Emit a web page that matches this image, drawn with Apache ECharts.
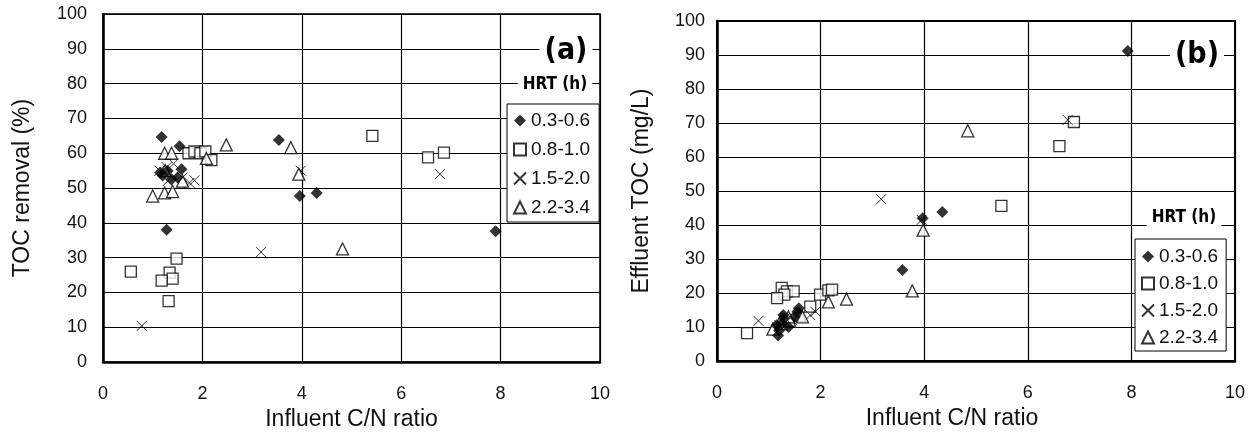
<!DOCTYPE html>
<html>
<head>
<meta charset="utf-8">
<script src="https://cdn.jsdelivr.net/npm/echarts@6/dist/echarts.min.js"></script>
<style>
html,body{margin:0;padding:0;background:#fff;}
#c{width:1255px;height:436px;}
</style>
</head>
<body>
<div id="c"></div>
<script>
// ---- data ----
const hrtGroups = ['0.3-0.6', '0.8-1.0', '1.5-2.0', '2.2-3.4'];
const xTicks = [0, 2, 4, 6, 8, 10];
const yTicks = [0, 10, 20, 30, 40, 50, 60, 70, 80, 90, 100];

// (a) TOC removal (%) vs influent C/N
const aHrt03 = [[1.18,64.7],[1.54,62],[1.2,53.6],[1.58,55.4],[1.3,55],[1.38,52.5],[1.15,54.5],[1.5,53],[1.28,38],[3.54,63.8],[3.96,47.7],[4.3,48.6],[7.9,37.6]];
const aHrt08 = [[0.56,26],[1.48,29.7],[1.34,25.7],[1.4,24],[1.18,23.4],[1.32,17.5],[1.72,60],[1.84,60.5],[1.96,60],[2.06,60.5],[2.18,58],[5.42,65],[6.54,58.8],[6.86,60.2]];
const aHrt15 = [[0.78,10.4],[1.14,55],[1.28,56],[1.42,57],[1.6,53],[1.74,51.5],[1.84,52.2],[1.3,52],[3.18,31.6],[3.98,55],[6.78,54]];
const aHrt22 = [[1.0,47.7],[1.24,48.6],[1.4,49],[1.24,60],[1.38,60],[1.25,55],[1.6,52],[2.08,58.5],[2.48,62.4],[3.78,61.6],[3.94,54],[4.82,32.5]];

// (b) Effluent TOC (mg/L) vs influent C/N
const bHrt03 = [[1.18,7.5],[1.2,9],[1.25,11],[1.3,12.5],[1.38,10],[1.5,13],[1.55,14.5],[1.58,15.5],[1.15,10.5],[1.28,13.5],[3.58,26.8],[3.97,42],[4.35,43.8],[7.93,91.2]];
const bHrt08 = [[0.58,8.2],[1.25,21.5],[1.35,20.5],[1.48,20.5],[1.3,19.5],[1.16,18.5],[1.8,16],[1.99,19.5],[2.15,20.8],[2.22,21],[5.49,45.6],[6.61,63.2],[6.89,70.3]];
const bHrt15 = [[0.8,11.8],[1.2,10.5],[1.3,11],[1.45,12],[1.6,13],[1.8,13.5],[1.9,14.5],[1.35,12.5],[3.17,47.6],[3.95,41.5],[6.77,70.9]];
const bHrt22 = [[1.08,9.4],[1.24,11],[1.4,12],[1.25,12.5],[1.38,13],[1.6,13.5],[1.65,13],[2.15,17.4],[2.5,18.2],[3.77,20.6],[3.98,38.5],[4.84,67.7]];

const aData = [aHrt03, aHrt08, aHrt15, aHrt22];
const bData = [bHrt03, bHrt08, bHrt15, bHrt22];

// ---- styles ----
const FONT = '"Liberation Sans", Arial, sans-serif';
const NARROW = '"Liberation Sans Narrow", "DejaVu Sans Condensed", "Liberation Sans", sans-serif';
const xPath = 'path://M0,0L10,10M10,0L0,10';
const markers = [
  {symbol: 'diamond', symbolSize: 12, itemStyle: {color: '#000', borderColor: '#000', borderWidth: 0}},
  {symbol: 'rect', symbolSize: 11, itemStyle: {color: '#fff', borderColor: '#000', borderWidth: 1.3}},
  {symbol: xPath, symbolSize: 10, itemStyle: {color: '#000', borderColor: '#000', borderWidth: 1}},
  {symbol: 'triangle', symbolSize: 12, itemStyle: {color: '#fff', borderColor: '#000', borderWidth: 1.3}}
];

function xAxis(gi, shift) {
  return {
    gridIndex: gi, type: 'value', min: xTicks[0], max: xTicks[xTicks.length - 1], interval: 2,
    name: 'Influent C/N ratio', nameLocation: 'middle', nameGap: 44,
    nameTextStyle: {fontFamily: FONT, fontSize: 23, color: '#111', padding: [0, shift, 0, 0]},
    axisLine: {show: true, onZero: false, lineStyle: {color: '#000', width: 2.5}},
    axisTick: {show: false},
    axisLabel: {fontFamily: FONT, fontSize: 18, color: '#111', margin: 23},
    splitLine: {show: true, lineStyle: {color: '#000', width: 1.2}}
  };
}
function yAxis(gi, name, margin, gap) {
  return {
    gridIndex: gi, type: 'value', min: yTicks[0], max: yTicks[yTicks.length - 1], interval: 10,
    name: name, nameLocation: 'middle', nameGap: gap,
    nameTextStyle: {fontFamily: FONT, fontSize: 23, color: '#111'},
    axisLine: {show: true, onZero: false, lineStyle: {color: '#000', width: 2.5}},
    axisTick: {show: false},
    axisLabel: {fontFamily: FONT, fontSize: 18, color: '#111', margin: margin},
    splitLine: {show: true, lineStyle: {color: '#000', width: 1.2}}
  };
}

const series = [];
[aData, bData].forEach((set, gi) => {
  set.forEach((d, k) => {
    series.push(Object.assign({
      type: 'scatter', name: hrtGroups[k], xAxisIndex: gi, yAxisIndex: gi,
      data: d, z: 3 + (k === 0 ? 1 : 0)
    }, JSON.parse(JSON.stringify(markers[k]))));
  });
});

function legend(left, top, gap, pad) {
  return {
    data: hrtGroups, orient: 'vertical', left: left, top: top,
    itemWidth: 12, itemHeight: 12, itemGap: gap,
    padding: pad,
    backgroundColor: '#fff', borderColor: '#000', borderWidth: 1,
    textStyle: {fontFamily: FONT, fontSize: 19, color: '#111'},
    selectedMode: false
  };
}

function label(text, x, y, size) {
  return {
    type: 'text', x: x, y: y, z: 10,
    style: {
      text: text, font: 'bold ' + size + 'px ' + NARROW, fill: '#000',
      align: 'center', verticalAlign: 'middle',
      backgroundColor: '#fff', padding: [2, 5, 2, 5]
    }
  };
}

const chart = echarts.init(document.getElementById('c'), null, {renderer: 'canvas'});
chart.setOption({
  animation: false,
  backgroundColor: '#fff',
  grid: [
    {left: 103, top: 14, width: 497, height: 354, show: true, borderColor: '#000', borderWidth: 1.5, backgroundColor: 'transparent'},
    {left: 717, top: 21, width: 518, height: 340, show: true, borderColor: '#000', borderWidth: 2, backgroundColor: 'transparent'}
  ],
  xAxis: [xAxis(0, 0), xAxis(1, 48)],
  yAxis: [yAxis(0, 'TOC removal (%)', 16, 69), yAxis(1, 'Effluent TOC (mg/L)', 12, 64)],
  legend: [legend(507, 104, 10, [7, 9, 5, 6]), legend(1135, 239, 8, [8, 8, 4, 6])],
  series: series,
  graphic: [
    label('(a)', 566, 51, 30),
    label('HRT (h)', 555, 85, 17),
    label('(b)', 1197, 55, 30),
    label('HRT (h)', 1184, 218, 17)
  ]
});
</script>
</body>
</html>
